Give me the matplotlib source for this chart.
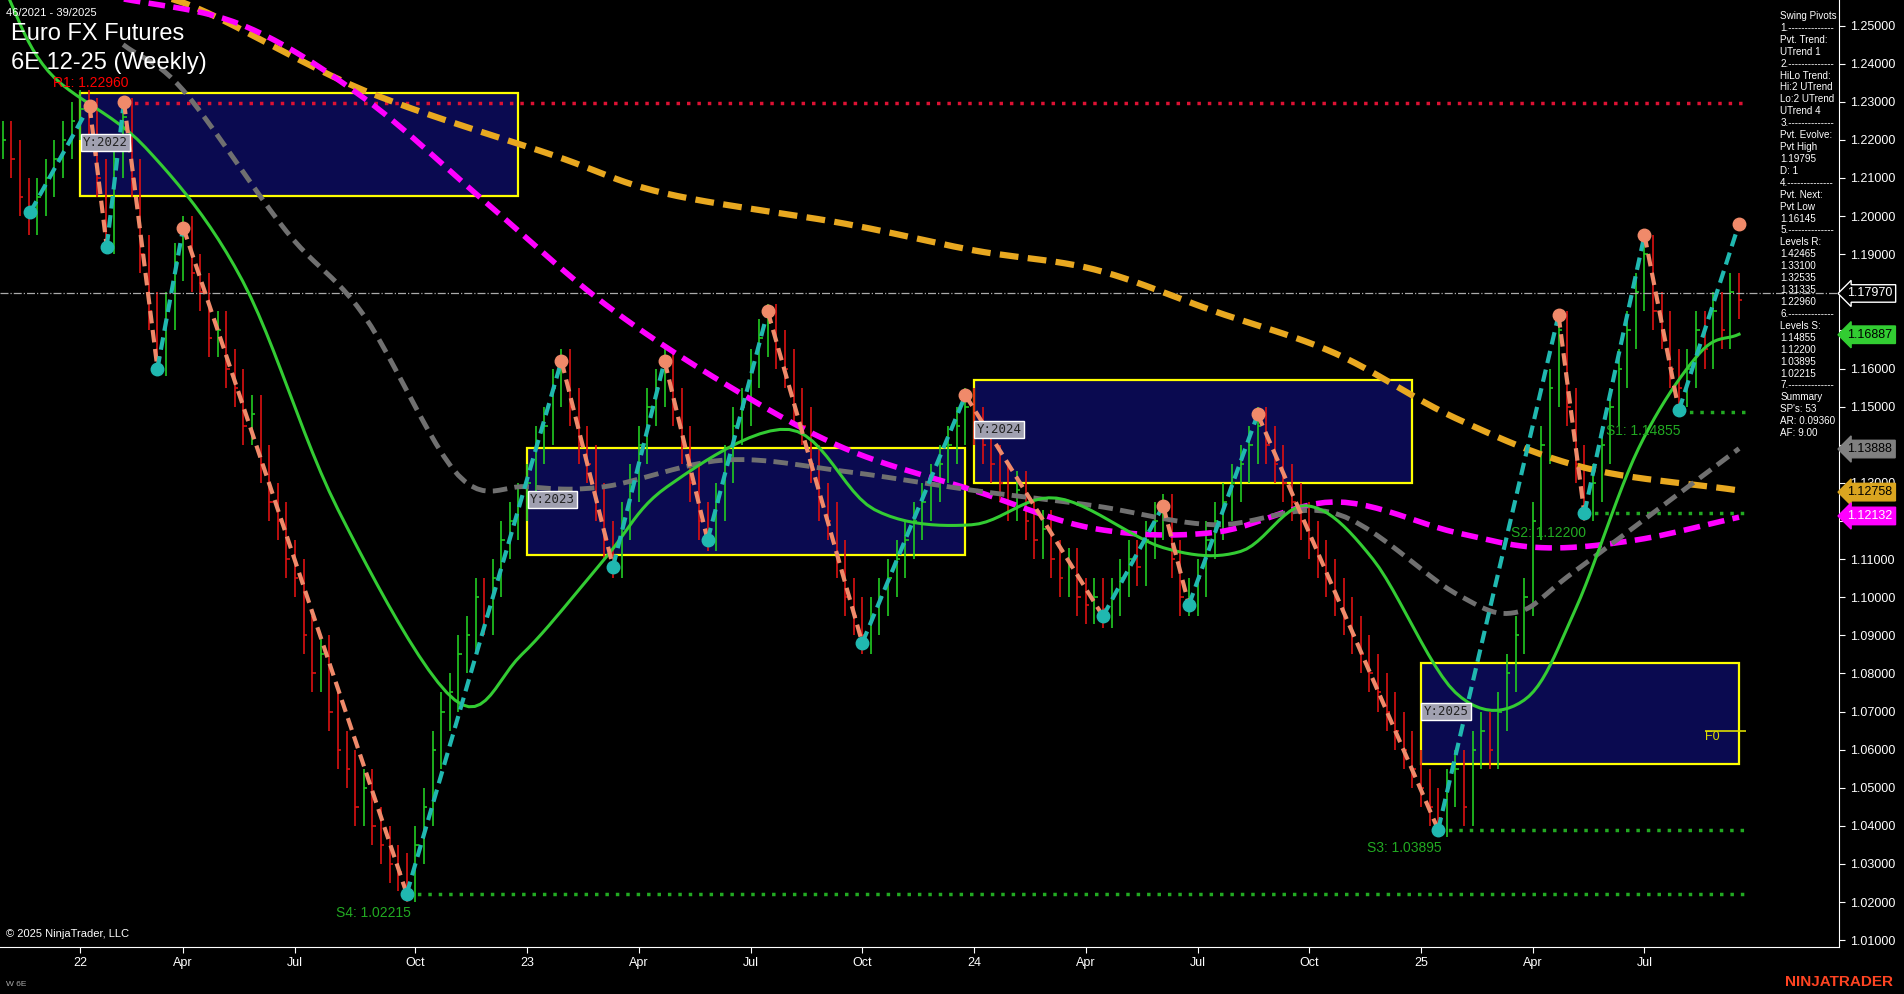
import matplotlib
matplotlib.use("Agg")
import matplotlib.pyplot as plt
import numpy as np

plt.rcParams['font.family'] = ['Liberation Sans', 'DejaVu Sans']

# ---------------- data ----------------
first_week = -9
closes = [1.22,1.215,1.205,1.20,
          1.205,1.21,1.215,1.22,1.225,1.228,1.226,
          1.21,1.195,1.215,1.226,
          1.21,1.19,1.175,1.163,
          1.175,1.188,1.195,
          1.185,1.18,1.168,1.17,1.16,1.155,1.145,1.148,1.135,1.125,1.12,1.11,1.105,1.09,1.08,1.085,1.07,1.06,1.055,1.045,1.05,1.04,1.035,1.03,1.028,1.025,
          1.035,1.045,1.06,1.07,1.075,1.085,1.09,1.10,1.095,1.105,1.115,1.12,1.125,1.13,1.14,1.145,1.155,1.16,
          1.15,1.14,1.135,1.125,1.115,1.11,
          1.12,1.13,1.14,1.15,1.155,1.16,
          1.15,1.14,1.13,1.12,1.117,
          1.125,1.135,1.145,1.15,1.16,1.168,1.172,
          1.165,1.16,1.15,1.145,1.135,1.125,1.12,1.11,1.10,1.095,1.09,
          1.095,1.10,1.105,1.11,1.115,1.12,1.125,1.13,1.135,1.14,1.145,1.15,
          1.145,1.14,1.135,1.13,1.125,1.128,1.12,1.115,1.118,1.11,1.105,1.108,1.10,1.098,1.10,1.097,
          1.10,1.105,1.11,1.108,1.115,1.12,1.122,
          1.11,1.10,1.10,
          1.105,1.115,1.12,1.125,1.13,1.135,1.14,1.145,
          1.14,1.135,1.13,1.125,1.12,1.115,1.11,1.105,1.10,1.095,1.09,1.085,1.08,1.075,1.07,1.065,1.06,1.055,1.05,1.045,1.042,
          1.05,1.055,1.045,1.06,1.065,1.06,1.07,1.08,1.09,1.10,1.12,1.14,1.155,1.17,
          1.15,1.135,1.125,
          1.13,1.14,1.15,1.16,1.17,1.18,1.19,
          1.175,1.17,1.16,1.155,
          1.16,1.17,1.165,1.175,1.17,1.18,1.178]

pivot_weeks = [-5.8,1.1,3.1,5.1,9,12,38,56,62,68,73,80,91,103,119,126,129,137,158,172,175,182,186,193]
pivot_prices = [1.201,1.229,1.192,1.230,1.160,1.197,1.0222,1.162,1.108,1.162,1.115,1.175,1.088,1.153,
                1.095,1.124,1.098,1.148,1.039,1.174,1.122,1.195,1.149,1.198]

orange_w = [-9.3,3,12,33,55,68,89,104,118,132,146,160,175,193]
orange_p = [1.258,1.257,1.256,1.233,1.216,1.206,1.198,1.191,1.186,1.175,1.164,1.147,1.134,1.128]
magenta_w = [-9.3,5,19,33,47,61,75,89,104,118,132,146,160,170,181,193]
magenta_p = [1.262,1.257,1.250,1.231,1.204,1.177,1.156,1.139,1.128,1.118,1.117,1.125,1.117,1.113,1.115,1.121]
gray_w = [5,12,24,33,44,52,61,75,89,104,118,132,146,160,167,174,193]
gray_p = [1.245,1.233,1.196,1.174,1.132,1.129,1.129,1.136,1.133,1.128,1.124,1.119,1.122,1.101,1.096,1.107,1.139]
green_w = [-9.3,-3.7,7.6,18.9,30,43.6,51.4,61,68.3,82.5,92.4,103.7,113.6,126,135,142.6,150.4,160,168,174,181.3,188.4,193]
green_p = [1.262,1.238,1.218,1.183,1.123,1.073,1.085,1.110,1.129,1.144,1.123,1.119,1.126,1.113,1.112,1.124,1.110,1.075,1.073,1.097,1.139,1.164,1.169]

boxes = [("Y:2022",0,51,1.2054,1.2322),("Y:2023",52,103,1.1110,1.1392),
         ("Y:2024",104,155,1.1299,1.1570),("Y:2025",156,193,1.0562,1.0828)]
support_levels = [("S4: 1.02215",1.02215,38),("S3: 1.03895",1.03895,158),
                  ("S2: 1.12200",1.12200,175),("S1: 1.14855",1.14855,186)]
r1_level = 1.22960
last_price = 1.17970
tags = [("1.17970","black","white","white"),("1.16887","#32cd32","black","#32cd32"),
        ("1.13888","#808080","black","#808080"),("1.12758","#daa520","black","#daa520"),
        ("1.12132","#ff00ff","white","#ff00ff")]
xtick_pos = [0,12,25,39,52,65,78,91,104,117,130,143,156,169,182]
xtick_lab = ["22","Apr","Jul","Oct","23","Apr","Jul","Oct","24","Apr","Jul","Oct","25","Apr","Jul"]
yticks = [1.01,1.02,1.03,1.04,1.05,1.06,1.07,1.08,1.09,1.10,1.11,1.12,1.13,1.14,1.15,1.16,1.17,1.18,1.19,1.20,1.21,1.22,1.23,1.24,1.25]
panel = ["Swing Pivots","1.--------------","Pvt. Trend:","UTrend 1","2.--------------","HiLo Trend:",
         "Hi:2 UTrend","Lo:2 UTrend","UTrend 4","3.--------------","Pvt. Evolve:","Pvt High","1.19795","D: 1",
         "4.--------------","Pvt. Next:","Pvt Low","1.16145","5.--------------","Levels R:","1.42465","1.33100",
         "1.32535","1.31335","1.22960","6.--------------","Levels S:","1.14855","1.12200","1.03895","1.02215",
         "7.--------------","Summary","SP's: 53","AR: 0.09360","AF: 9.00"]

def smooth(xs, ys, n=12):
    # Catmull-Rom curve through the given points
    x = np.asarray(xs, float); y = np.asarray(ys, float)
    P = np.vstack([x, y]).T
    P = np.vstack([2 * P[0] - P[1], P, 2 * P[-1] - P[-2]])
    out = []
    t = np.linspace(0, 1, n, endpoint=False)[:, None]
    for i in range(1, len(P) - 2):
        p0, p1, p2, p3 = P[i - 1], P[i], P[i + 1], P[i + 2]
        seg = 0.5 * ((2 * p1) + (-p0 + p2) * t + (2 * p0 - 5 * p1 + 4 * p2 - p3) * t ** 2 + (-p0 + 3 * p1 - 3 * p2 + p3) * t ** 3)
        out.append(seg)
    out.append(P[-2][None, :])
    out = np.vstack(out)
    return out[:, 0], out[:, 1]

# ---------------- figure ----------------
fig = plt.figure(figsize=(19.04, 9.94), dpi=100, facecolor="black")
ax = fig.add_axes([0, 0.0476, 0.966, 0.9524], facecolor="black")
X0, X1 = -9.32, 204.66
Y0, Y1 = 1.0083, 1.2567
ax.set_xlim(X0, X1); ax.set_ylim(Y0, Y1)

def px(x): return (x - 66) / 7.08
def py(y): return 1.25 - (y - 21) / 3140

for lab, a, b, lo, hi in boxes:
    ax.add_patch(plt.Rectangle((a, lo), b - a, hi - lo, facecolor="#0a0a50", edgecolor="yellow", lw=1.6, zorder=1))
    ax.text(a + 0.3, hi - (hi - lo) * 0.48, lab, family="DejaVu Sans Mono", color="#222", fontsize=9, va="center",
            bbox=dict(facecolor="#a0a0b0", edgecolor="white", pad=1.5), zorder=6)

weeks = np.arange(first_week, first_week + len(closes))
c = np.array(closes)
prev = np.concatenate([[c[0]], c[:-1]])
hi = np.maximum(c, prev) + 0.005
lo = np.minimum(c, prev) - 0.005
cols = np.where(c >= prev, "#22cc22", "#dd1111")
ax.vlines(weeks, lo, hi, colors=cols, lw=1.2, zorder=2)
ax.hlines(c, weeks, weeks + 0.4, colors=cols, lw=1.2, zorder=2)

ax.plot(*smooth(orange_w, orange_p), color="#e8a820", lw=4.5, ls=(0, (3, 1.5)), zorder=3)
ax.plot(*smooth(magenta_w, magenta_p), color="#ff00ff", lw=4, ls=(0, (3, 1.5)), zorder=3)
ax.plot(*smooth(gray_w, gray_p), color="#707070", lw=3.5, ls=(0, (3, 1.5)), zorder=3)
ax.plot(*smooth(green_w, green_p), color="#33cc33", lw=2.2, zorder=3)

ax.hlines(r1_level, 5.1, px(1437), colors="#dd1133", lw=2.5, ls=(0, (1, 2)), zorder=2)
ax.text(px(44), py(68), "R1: 1.22960", color="red", fontsize=10, va="center")
ax.axhline(last_price, color="#aaaaaa", lw=0.9, ls="-.", zorder=2)
for lab, lev, w in support_levels:
    ax.hlines(lev, w, px(1437), colors="#22aa22", lw=2.5, ls=(0, (1, 2)), zorder=2)
ax.text(px(277), py(752), "S4: 1.02215", color="#22aa22", fontsize=10, va="center")
ax.text(px(1126), py(699), "S3: 1.03895", color="#22aa22", fontsize=10, va="center")
ax.text(px(1245), py(439), "S2: 1.12200", color="#22aa22", fontsize=10, va="center")
ax.text(px(1323), py(355), "S1: 1.14855", color="#22aa22", fontsize=10, va="center")
ax.hlines(py(602), px(1404), px(1438), colors="#dddd00", lw=1.2)
ax.text(px(1404), py(607), "F0", color="#dddd00", fontsize=9, va="center")

for i in range(len(pivot_weeks) - 1):
    up = pivot_prices[i + 1] > pivot_prices[i]
    ax.plot(pivot_weeks[i:i + 2], pivot_prices[i:i + 2], color="#20b8b0" if up else "#f08a6a",
            lw=3, ls=(0, (3, 1.6)), zorder=4)
for w, p, nxt in zip(pivot_weeks, pivot_prices, pivot_prices[1:] + [0]):
    ishigh = p > nxt
    ax.plot(w, p, "o", ms=9, color="#f08a6a" if ishigh else "#20b8b0", zorder=5)

ax.yaxis.tick_right()
ax.set_yticks(yticks)
ax.set_yticklabels([f"{v:.5f}" for v in yticks], color="white", fontsize=9)
ax.set_xticks(xtick_pos)
ax.set_xticklabels(xtick_lab, color="white", fontsize=9)
ax.tick_params(colors="white", length=4)
for s in ["top", "left"]:
    ax.spines[s].set_visible(False)
for s in ["right", "bottom"]:
    ax.spines[s].set_color("white")

for t, fc, tc, ec in tags:
    v = float(t)
    ax.text(1.0045, v, t, transform=ax.get_yaxis_transform(), color=tc, fontsize=9, va="center",
            bbox=dict(boxstyle="larrow,pad=0.22", facecolor=fc, edgecolor=ec), zorder=7, clip_on=False)

fig.text(0.003, 0.992, "46/2021 - 39/2025", color="white", fontsize=8, va="top")
fig.text(0.006, 0.966, "Euro FX Futures", color="white", fontsize=17, va="center")
fig.text(0.006, 0.937, "6E 12-25 (Weekly)", color="white", fontsize=17, va="center")
fig.text(0.003, 0.06, "© 2025 NinjaTrader, LLC", color="white", fontsize=8, va="center")
fig.text(0.003, 0.01, "W 6E", color="#aaaaaa", fontsize=6, va="center")
fig.text(0.994, 0.012, "NINJATRADER", color="#ff4422", fontsize=11, weight="bold", ha="right", va="center")
fig.text(0.935, 0.989, "\n".join(panel), color="white", fontsize=7.1, va="top", linespacing=1.24)

fig.savefig("out.png", dpi=100, facecolor="black")
